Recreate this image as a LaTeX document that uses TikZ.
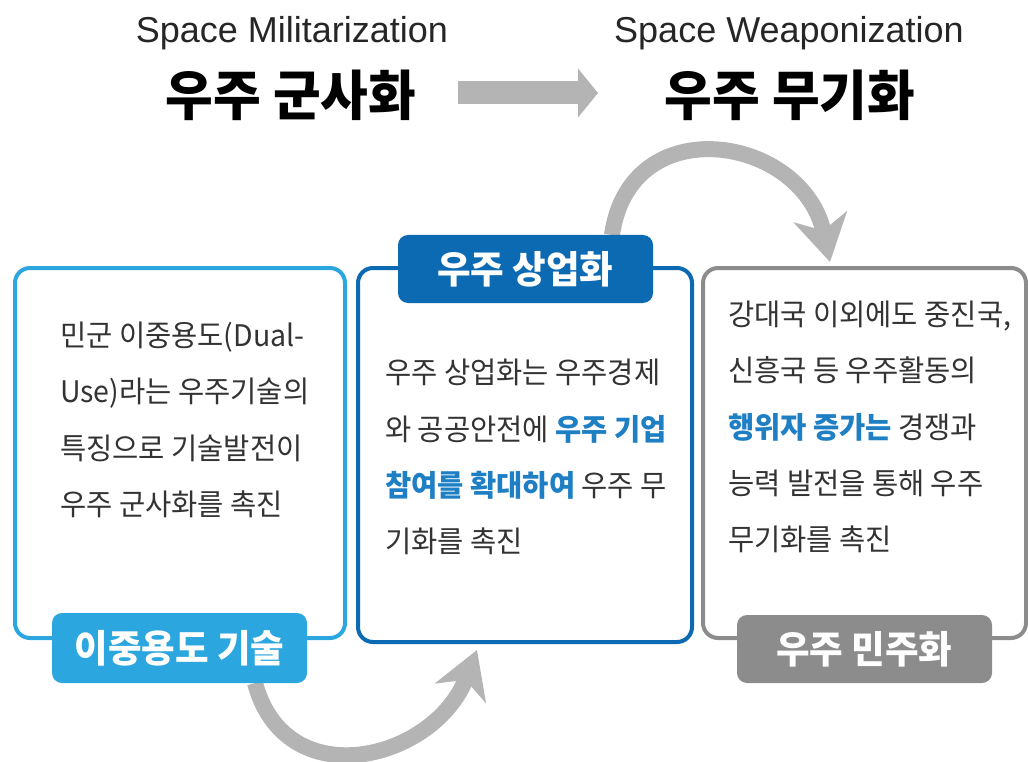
\documentclass[tikz,border=0pt]{standalone}
\usepackage{fontspec}
\usetikzlibrary{arrows.meta}
\newfontfamily\kr[FakeStretch=0.96]{Noto Sans CJK KR}
\newfontfamily\en{Liberation Sans}
\definecolor{lb}{HTML}{2BA6DF}
\definecolor{db}{HTML}{0C6AB3}
\definecolor{gb}{HTML}{8C8C8C}
\definecolor{arw}{HTML}{B4B4B4}
\definecolor{txt}{HTML}{333333}
\definecolor{hlc}{HTML}{1F7FC4}
\newcommand{\hl}[1]{\textcolor{hlc}{\bfseries #1}}
\begin{document}
\begin{tikzpicture}[x=1pt,y=-1pt,
  bodytext/.style={anchor=base west, inner sep=0pt, text=txt, font=\kr\fontsize{29.7}{34}\selectfont},
  box/.style={draw, line width=4pt, rounded corners=15pt, fill=white, inner sep=0pt},
  tag/.style={rounded corners=10pt, inner sep=0pt, text=white, font=\kr\bfseries\fontsize{38}{40}\selectfont},
  entitle/.style={anchor=base, inner sep=0pt, text=black!85, font=\en\fontsize{36}{40}\selectfont},
  krtitle/.style={inner sep=0pt, text=black, font=\kr\bfseries\fontsize{54}{58}\selectfont},
  curvearrow/.style={draw=arw, line width=16pt, -{Stealth[length=46pt,width=54pt,inset=14pt]}}
]
\useasboundingbox (0,0) rectangle (1028,762);

% titles
\node[entitle] (e1) at (292,43) {Space Militarization};
\node[entitle] (e2) at (789,43) {Space Weaponization};
\node[krtitle] (k1) at (291,95) {우주 군사화};
\node[krtitle] (k2) at (790,95) {우주 무기화};
\coordinate (ta) at (458,93);
\coordinate (tb) at (598,93);
\draw[arw, line width=23pt, -{Triangle[length=20pt,width=48pt]}] (ta) -- (tb);

% boxes
\node[box, draw=lb, minimum width=330pt, minimum height=370pt] (B1) at (180,453) {};
\node[box, draw=db, minimum width=334pt, minimum height=374pt] (B2) at (525,455) {};
\node[box, draw=gb, minimum width=323pt, minimum height=370pt] (B3) at (864.5,453) {};

% curved arrows
\coordinate (a1s) at (255,683);
\coordinate (a1e) at (477,650);
\draw[curvearrow] (a1s) .. controls (285.7,797.6) and (434.5,760.8) .. (a1e);
\coordinate (a2s) at (612,235);
\coordinate (a2e) at (830,262);
\draw[curvearrow] (a2s) .. controls (630,107) and (803,135.4) .. (a2e);

% tags
\node[tag, fill=lb, minimum width=255pt, minimum height=70pt] (L1) at (179.5,648) {이중용도 기술};
\node[tag, fill=db, minimum width=255pt, minimum height=68pt] (L2) at (525.5,269) {우주 상업화};
\node[tag, fill=gb, minimum width=255pt, minimum height=68pt] (L3) at (864.5,649) {우주 민주화};

% body text box 1
\node[bodytext] (b1a) at (60,346) {민군 이중용도(Dual-};
\node[bodytext] (b1b) at (60,402.5) {Use)라는 우주기술의};
\node[bodytext] (b1c) at (60,459) {특징으로 기술발전이};
\node[bodytext] (b1d) at (60,515.5) {우주 군사화를 촉진};

% body text box 2
\node[bodytext] (b2a) at (385,383) {우주 상업화는 우주경제};
\node[bodytext] (b2b) at (385,440) {와 공공안전에 \hl{우주 기업}};
\node[bodytext] (b2c) at (385,496) {\hl{참여를 확대하여} 우주 무};
\node[bodytext] (b2d) at (385,552) {기화를 촉진};

% body text box 3
\node[bodytext] (b3a) at (728,325) {강대국 이외에도 중진국,};
\node[bodytext] (b3b) at (728,381) {신흥국 등 우주활동의};
\node[bodytext] (b3c) at (728,438) {\hl{행위자 증가는} 경쟁과};
\node[bodytext] (b3d) at (728,494) {능력 발전을 통해 우주};
\node[bodytext] (b3e) at (728,550) {무기화를 촉진};
\end{tikzpicture}
\end{document}
